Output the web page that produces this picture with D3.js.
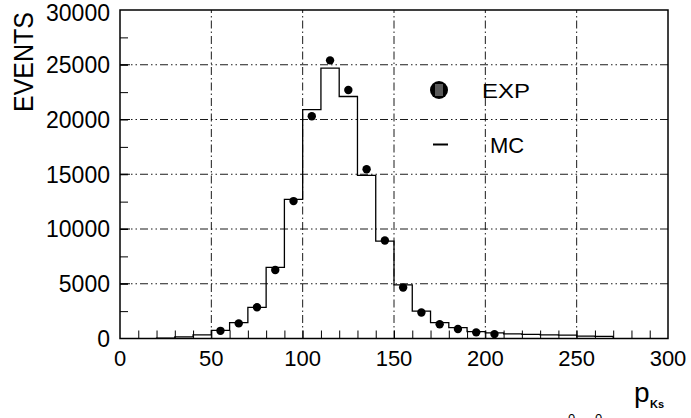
<!DOCTYPE html>
<html>
<head>
<meta charset="utf-8">
<script src="https://cdn.jsdelivr.net/npm/d3@7"></script>
<style>
  html, body { margin: 0; padding: 0; background: #fff; }
  svg { display: block; }
  text { font-family: "Liberation Sans", Arial, sans-serif; fill: #000; }
</style>
</head>
<body>
<svg id="chart" width="691" height="418"></svg>
<script>
// ---- data ----
const binEdges = [20, 30, 40, 50, 60, 70, 80, 90, 100, 110, 120, 130, 140, 150, 160, 170, 180, 190, 200, 210, 220, 230, 240, 250, 260, 270];
const mcValues = [40, 150, 330, 750, 1450, 2850, 6500, 12700, 20900, 24700, 22100, 14900, 8900, 4900, 2500, 1450, 1000, 620, 520, 420, 380, 330, 300, 220, 200];
const expX = [55, 65, 75, 85, 95, 105, 115, 125, 135, 145, 155, 165, 175, 185, 195, 205];
const expValues = [700, 1380, 2850, 6250, 12550, 20300, 25400, 22700, 15450, 8950, 4650, 2380, 1300, 870, 560, 400];
const xTicks = [0, 50, 100, 150, 200, 250, 300];
const yTicks = [0, 5000, 10000, 15000, 20000, 25000, 30000];
const legendLabels = ["EXP", "MC"];

const svg = d3.select("#chart");
const pL = 120, pR = 668, pT = 10, pB = 338.5;
const x = d3.scaleLinear().domain([0, 300]).range([pL, pR]);
const y = d3.scaleLinear().domain([0, 30000]).range([pB, pT]);

// grid lines
const g = svg.append("g");
g.selectAll(".vgrid").data(xTicks.filter(d => d > 0 && d < 300)).enter().append("line")
  .attr("x1", d => x(d)).attr("x2", d => x(d)).attr("y1", pB).attr("y2", pT)
  .attr("stroke", "#000").attr("stroke-width", 0.9).attr("stroke-dasharray", "8,3,1.5,3");
g.selectAll(".hgrid").data(yTicks.filter(d => d > 0 && d < 30000)).enter().append("line")
  .attr("x1", pL).attr("x2", pR).attr("y1", d => y(d)).attr("y2", d => y(d))
  .attr("stroke", "#000").attr("stroke-width", 0.9).attr("stroke-dasharray", "8,3,1.5,3,1.5,3");

// axes with inward ticks
const xMinor = d3.range(10, 300, 10);
const xAxis = d3.axisTop(x).tickValues(xMinor).tickSize(8).tickFormat("");
svg.append("g").attr("transform", `translate(0,${pB})`).call(xAxis)
  .call(s => s.select(".domain").remove())
  .call(s => s.selectAll("line").attr("stroke", "#000").attr("stroke-width", 1));
const yMinor = d3.range(2500, 30000, 2500);
const yAxis = d3.axisRight(y).tickValues(yMinor).tickSize(8).tickFormat("");
svg.append("g").attr("transform", `translate(${pL},0)`).call(yAxis)
  .call(s => s.select(".domain").remove())
  .call(s => s.selectAll("line").attr("stroke", "#000").attr("stroke-width", 1));
svg.append("g").selectAll("line").data(yTicks.filter(d => d > 0 && d < 30000)).enter().append("line")
  .attr("x1", pL).attr("x2", pL + 10).attr("y1", d => y(d)).attr("y2", d => y(d))
  .attr("stroke", "#000").attr("stroke-width", 1);

// frame
svg.append("rect").attr("x", pL).attr("y", pT).attr("width", pR - pL).attr("height", pB - pT)
  .attr("fill", "none").attr("stroke", "#000").attr("stroke-width", 1.5);

// tick labels
svg.append("g").selectAll("text").data(xTicks).enter().append("text")
  .attr("x", d => x(d)).attr("y", 366).attr("text-anchor", "middle")
  .attr("font-size", 22).text(d => d);
svg.append("g").selectAll("text").data(yTicks).enter().append("text")
  .attr("x", 110).attr("y", d => Math.max(y(d) + 8.3, 20.5)).attr("text-anchor", "end")
  .attr("font-size", 23).text(d => d);

// MC histogram (step)
const pts = [[binEdges[0], 0]];
mcValues.forEach((v, i) => { pts.push([binEdges[i], v]); pts.push([binEdges[i + 1], v]); });
pts.push([binEdges[binEdges.length - 1], 0]);
svg.append("path")
  .attr("d", d3.line().x(d => x(d[0])).y(d => y(d[1]))(pts))
  .attr("fill", "none").attr("stroke", "#000").attr("stroke-width", 1.3);

// EXP points
svg.append("g").selectAll("circle").data(expX).enter().append("circle")
  .attr("cx", d => x(d)).attr("cy", (d, i) => y(expValues[i])).attr("r", 4.2).attr("fill", "#000");

// legend
const lg = svg.append("g");
lg.append("circle").attr("cx", 439).attr("cy", 90).attr("r", 9).attr("fill", "#000");
[-3, -1, 1, 3].forEach(o => lg.append("line")
  .attr("x1", 439 + o).attr("x2", 439 + o).attr("y1", 84).attr("y2", 96)
  .attr("stroke", "#fff").attr("stroke-width", 0.7));
lg.append("line").attr("x1", 433).attr("x2", 448).attr("y1", 144.5).attr("y2", 144.5)
  .attr("stroke", "#000").attr("stroke-width", 2);
lg.append("text").attr("x", 506).attr("y", 97.5).attr("text-anchor", "middle").attr("font-size", 21)
  .attr("textLength", 48).attr("lengthAdjust", "spacingAndGlyphs").text(legendLabels[0]);
lg.append("text").attr("x", 507).attr("y", 152.5).attr("text-anchor", "middle").attr("font-size", 22)
  .text(legendLabels[1]);

// axis titles
svg.append("text").attr("transform", "translate(33,112) rotate(-90)")
  .attr("font-size", 28).attr("textLength", 100).attr("lengthAdjust", "spacingAndGlyphs").text("EVENTS");
svg.append("text").attr("x", 634).attr("y", 401.5).attr("font-size", 28).text("p");
svg.append("text").attr("x", 650).attr("y", 408).attr("font-size", 11).attr("font-weight", "bold").text("Ks");
// cut-off caption remnants at the bottom edge (as in the reference)
svg.append("text").attr("x", 568).attr("y", 423).attr("font-size", 13).text("0");
svg.append("text").attr("x", 595).attr("y", 423).attr("font-size", 13).text("0");
</script>
</body>
</html>
